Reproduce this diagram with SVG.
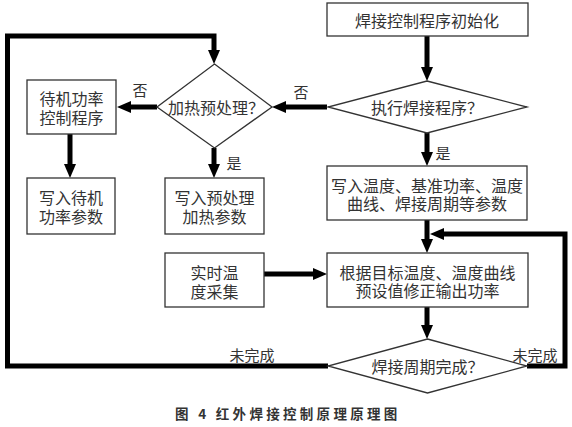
<svg xmlns="http://www.w3.org/2000/svg" width="572" height="427" viewBox="0 0 572 427">
<style>
.box{fill:#fff;stroke:#333;stroke-width:1.3}
.t{font-family:"Noto Sans CJK SC","Noto Sans CJK JP",sans-serif;font-size:16px;fill:#333;text-anchor:middle;dominant-baseline:central}
.lbl{font-family:"Noto Sans CJK SC","Noto Sans CJK JP",sans-serif;font-size:15px;fill:#333;text-anchor:middle;dominant-baseline:central}
.cap{font-family:"Noto Sans CJK SC","Noto Sans CJK JP",sans-serif;font-size:13.5px;font-weight:bold;fill:#333;letter-spacing:3.3px}
.c{fill:none;stroke:#000;stroke-width:5;marker-end:url(#ah)}
</style>
<defs>
<marker id="ah" markerUnits="userSpaceOnUse" markerWidth="14" markerHeight="12" refX="6" refY="6" orient="auto" viewBox="0 0 14 12">
<path d="M0,0 L14,6 L0,12 z" fill="#000"/>
</marker>
</defs>
<rect width="572" height="427" fill="#fff"/>
<g id="connectors">
<path class="c" d="M427,36 V73"/>
<path class="c" d="M327,107 H280"/>
<path class="c" d="M157,107 H125"/>
<path class="c" d="M70,134 V170"/>
<path class="c" d="M214,148 V170"/>
<path class="c" d="M427,133 V158"/>
<path class="c" d="M427,220 V245"/>
<path class="c" d="M527,366 H565 V234 H438"/>
<path class="c" d="M264,274 H319"/>
<path class="c" d="M427,307 V331"/>
<path class="c" d="M328,366 H7.5 V36 H214 V56"/>
</g>
<g id="labels">
<text class="lbl" x="301" y="91">否</text>
<text class="lbl" x="140" y="89">否</text>
<text class="lbl" x="234" y="162">是</text>
<text class="lbl" x="443" y="152">是</text>
<text class="lbl" x="252" y="354">未完成</text>
<text class="lbl" x="535" y="354">未完成</text>
</g>
<g id="n_init">
<rect class="box" x="327" y="3" width="201" height="33"/>
<text class="t" x="427" y="19.5">焊接控制程序初始化</text>
</g>
<g id="n_exec">
<polygon class="box" points="427,81 527,107 427,133 328,107"/>
<text class="t" x="427" y="107">执行焊接程序？</text>
</g>
<g id="n_preheat">
<polygon class="box" points="214.5,64 272,107 214.5,148 157,107"/>
<text class="t" x="216" y="107">加热预处理？</text>
</g>
<g id="n_standby">
<rect class="box" x="27" y="80" width="89" height="54"/>
<text class="t" x="71.5" y="98">待机功率<tspan x="71.5" dy="19">控制程序</tspan></text>
</g>
<g id="n_standby_param">
<rect class="box" x="27" y="178" width="88" height="56"/>
<text class="t" x="71" y="197">写入待机<tspan x="71" dy="19">功率参数</tspan></text>
</g>
<g id="n_preheat_param">
<rect class="box" x="165" y="178" width="99" height="56"/>
<text class="t" x="214.5" y="197">写入预处理<tspan x="214.5" dy="19">加热参数</tspan></text>
</g>
<g id="n_params">
<rect class="box" x="327" y="166" width="200" height="54"/>
<text class="t" x="427" y="185">写入温度、基准功率、温度<tspan x="427" dy="18">曲线、焊接周期等参数</tspan></text>
</g>
<g id="n_sample">
<rect class="box" x="165" y="253" width="99" height="54"/>
<text class="t" x="214.5" y="272">实时温<tspan x="214.5" dy="19">度采集</tspan></text>
</g>
<g id="n_correct">
<rect class="box" x="327" y="253" width="201" height="54"/>
<text class="t" x="427.5" y="272">根据目标温度、温度曲线<tspan x="427.5" dy="18">预设值修正输出功率</tspan></text>
</g>
<g id="n_done">
<polygon class="box" points="427.5,339 527,366 427.5,393 328,366"/>
<text class="t" x="427.5" y="366">焊接周期完成？</text>
</g>
<text class="cap" x="175" y="419">图 4 红外焊接控制原理原理图</text>
</svg>
